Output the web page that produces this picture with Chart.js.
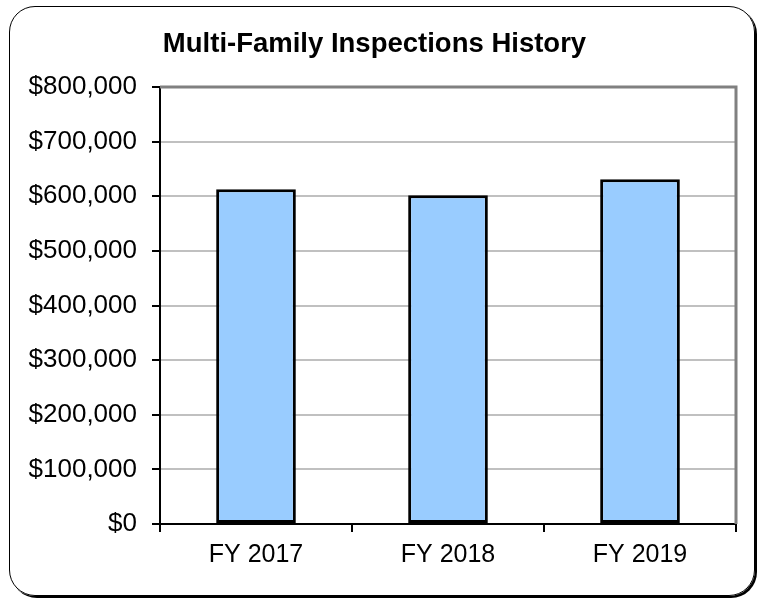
<!DOCTYPE html>
<html>
<head>
<meta charset="utf-8">
<script src="https://cdn.jsdelivr.net/npm/chart.js@4.4.1/dist/chart.umd.min.js"></script>
<style>
  html, body { margin: 0; padding: 0; background: #fff; }
  #wrap { position: relative; width: 759px; height: 602px; }
  #frame {
    position: absolute; left: 9px; top: 6px; width: 744px; height: 588px;
    border: 1.5px solid #000; border-radius: 26px;
    box-shadow: 2px 2px 0 #000;
  }
  #c { position: absolute; left: 0; top: 0; }
</style>
</head>
<body>
<div id="wrap">
  <div id="frame"></div>
  <canvas id="c" width="759" height="602"></canvas>
</div>
<script>
/* ---------- data ---------- */
const categories = ['FY 2017', 'FY 2018', 'FY 2019'];
const inspections = [613000, 602000, 631000];
const yMin = 0;
const yMax = 800000;
const yStep = 100000;

const FONT = '"Liberation Sans", Arial, sans-serif';

/* plot-area frame: grey top + right edges like the Excel plot area */
const plotFrame = {
  id: 'plotFrame',
  afterDatasetsDraw(chart) {
    const { ctx, chartArea: a } = chart;
    ctx.save();
    ctx.strokeStyle = '#808080';
    ctx.lineWidth = 3;
    ctx.beginPath();
    ctx.moveTo(a.left, a.top);
    ctx.lineTo(a.right, a.top);
    ctx.lineTo(a.right, a.bottom);
    ctx.stroke();
    ctx.restore();
  }
};

new Chart(document.getElementById('c'), {
  type: 'bar',
  data: {
    labels: categories,
    datasets: [{
      data: inspections,
      backgroundColor: '#99ccff',
      borderColor: '#000',
      borderWidth: 3,
      borderSkipped: false,
      categoryPercentage: 1,
      barPercentage: 0.415
    }]
  },
  options: {
    responsive: false,
    animation: false,
    devicePixelRatio: 1,
    layout: { padding: { left: 13, right: 23, top: 0, bottom: 24 } },
    plugins: {
      legend: { display: false },
      tooltip: { enabled: false },
      title: {
        display: true,
        text: 'Multi-Family Inspections History',
        color: '#000',
        font: { family: FONT, size: 27.5, weight: 'bold' },
        padding: { top: 28, bottom: 26 }
      }
    },
    scales: {
      y: {
        min: yMin,
        max: yMax,
        afterFit(scale) { scale.width = 147; },
        ticks: {
          stepSize: yStep,
          color: '#000',
          padding: 15,
          font: { family: FONT, size: 26 },
          callback: v => '$' + v.toLocaleString('en-US')
        },
        grid: {
          color: '#c0c0c0',
          lineWidth: 2,
          tickColor: '#000',
          tickLength: 8
        },
        border: { color: '#000', width: 2 }
      },
      x: {
        ticks: {
          color: '#000',
          padding: 8,
          font: { family: FONT, size: 25 }
        },
        grid: {
          drawOnChartArea: false,
          tickColor: '#000',
          tickLength: 8,
          lineWidth: 2
        },
        border: { color: '#000', width: 2 }
      }
    }
  },
  plugins: [plotFrame]
});
</script>
</body>
</html>
